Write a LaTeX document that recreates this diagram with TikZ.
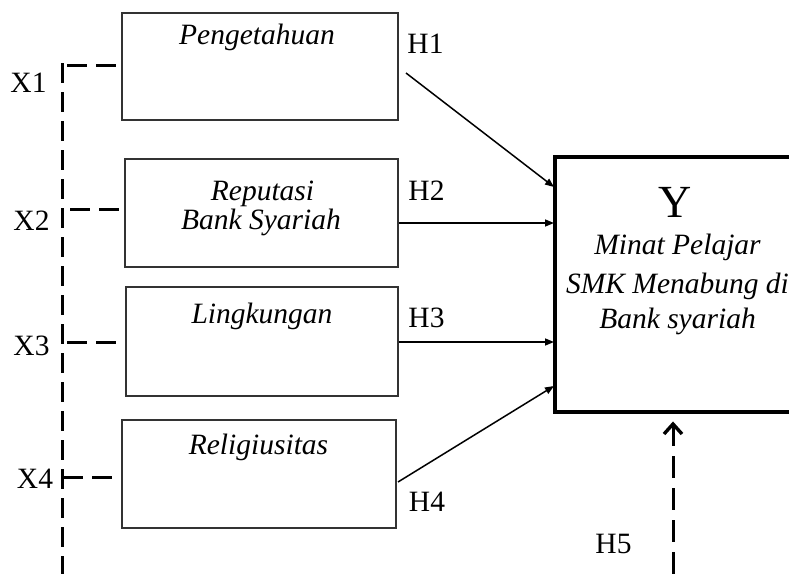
\documentclass[tikz,border=0pt]{standalone}
\usepackage{fontspec}
\setmainfont{Liberation Serif}
\usetikzlibrary{arrows.meta}
\begin{document}
\begin{tikzpicture}[x=1pt,y=-1pt,
  box/.style={draw=black!80,line width=1.1pt,inner sep=0pt,rectangle},
  ybox/.style={draw=black,line width=3.4pt,inner sep=0pt,rectangle},
  itxt/.style={font=\fontsize{29.5}{30}\selectfont\itshape,anchor=base,inner sep=0pt},
  rtxt/.style={font=\fontsize{29.5}{30}\selectfont,anchor=base,inner sep=0pt},
  dashline/.style={line width=3pt,dash pattern=on 20pt off 9pt},
  arr/.style={line width=1.5pt,-{Triangle[length=9pt,width=7pt]}},
  darr/.style={line width=3pt,dash pattern=on 22pt off 10pt},
  chev/.style={line width=3.4pt,line join=miter}
]
\clip (0,0) rectangle (789,573);
% boxes
\node[box,minimum width=276pt,minimum height=107pt] (b1) at (260,66.5) {};
\node[box,minimum width=273pt,minimum height=108pt] (b2) at (261.5,213) {};
\node[box,minimum width=272pt,minimum height=109pt] (b3) at (262,341.5) {};
\node[box,minimum width=274pt,minimum height=108pt] (b4) at (259,474) {};
\node[ybox,minimum width=245pt,minimum height=255pt] (yb) at (677.5,284.5) {};
% box texts
\node[itxt] (t1) at (257,44) {Pengetahuan};
\node[itxt] (t2a) at (262.5,200) {Reputasi};
\node[itxt] (t2b) at (261,229) {Bank Syariah};
\node[itxt] (t3) at (262,323) {Lingkungan};
\node[itxt] (t4) at (258.5,454) {Religiusitas};
\node[font=\fontsize{46}{46}\selectfont,anchor=base,inner sep=0pt] (ty) at (675,217) {Y};
\node[itxt] (ty1) at (677.5,254) {Minat Pelajar};
\node[itxt] (ty2) at (677.5,293) {SMK Menabung di};
\node[itxt] (ty3) at (677.5,328) {Bank syariah};
% X labels
\node[rtxt] (x1) at (28.5,92) {X1};
\node[rtxt] (x2) at (31.5,230) {X2};
\node[rtxt] (x3) at (31.5,355) {X3};
\node[rtxt] (x4) at (35,488) {X4};
% H labels
\node[rtxt] (h1) at (425.5,53) {H1};
\node[rtxt] (h2) at (426.5,200) {H2};
\node[rtxt] (h3) at (426.5,327) {H3};
\node[rtxt] (h4) at (427,511) {H4};
\node[rtxt] (h5) at (613.5,553) {H5};
% spine and dashed links
\coordinate (sp0) at (62,63);
\coordinate (sp1) at (62,575);
\draw[dashline] (sp0) -- (sp1);
\coordinate (d1s) at (67,65);
\coordinate (d2s) at (70,209);
\coordinate (d3s) at (67,342);
\coordinate (d4s) at (63,477);
\draw[dashline] (d1s) -- ([xshift=-4pt]b1.west |- d1s);
\draw[dashline] (d2s) -- ([xshift=-4pt]b2.west |- d2s);
\draw[dashline] (d3s) -- ([xshift=-4pt]b3.west |- d3s);
\draw[dashline] (d4s) -- ([xshift=-4pt]b4.west |- d4s);
% solid arrows
\coordinate (a1s) at (406,73);
\coordinate (a1e) at (554,187);
\coordinate (a2s) at (399,223);
\coordinate (a2e) at (554,223);
\coordinate (a3s) at (399,342);
\coordinate (a3e) at (554,342);
\coordinate (a4s) at (398,482);
\coordinate (a4e) at (554,386);
\draw[arr] (a1s) -- (a1e);
\draw[arr] (a2s) -- (a2e);
\draw[arr] (a3s) -- (a3e);
\draw[arr] (a4s) -- (a4e);
% H5 dashed arrow
\coordinate (a5s) at (673,580);
\coordinate (a5e) at (673,424);
\draw[darr] (a5e) -- (a5s);
\draw[chev] ([shift={(-9,10)}]a5e) -- (a5e) -- ([shift={(9,10)}]a5e);
\end{tikzpicture}
\end{document}
